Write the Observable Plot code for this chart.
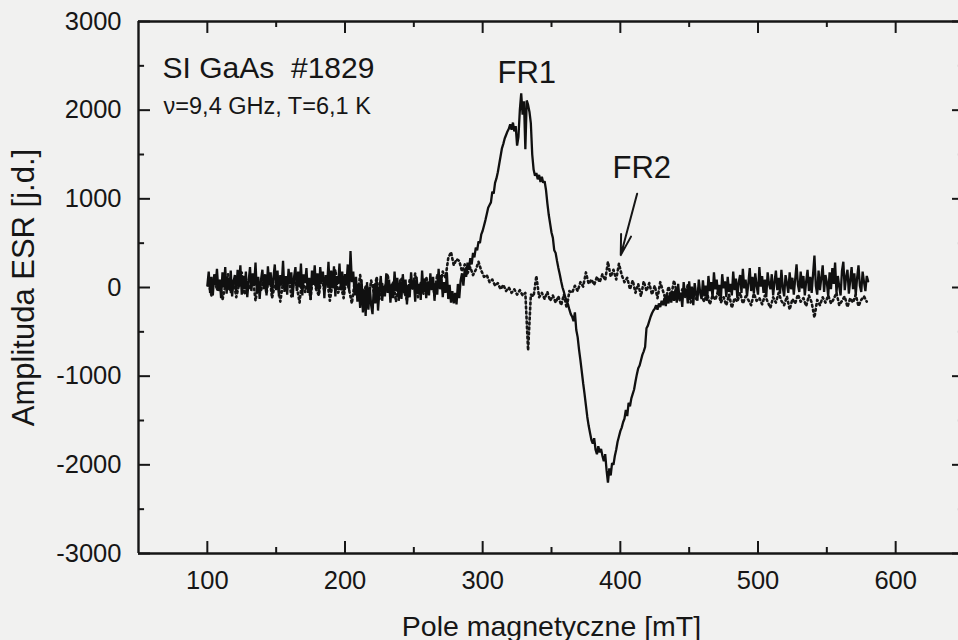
<!DOCTYPE html>
<html>
<head>
<meta charset="utf-8">
<script src="https://cdn.jsdelivr.net/npm/d3@7"></script>
<script src="https://cdn.jsdelivr.net/npm/@observablehq/plot@0.6"></script>
<style>
  html, body { margin: 0; padding: 0; background: #f1f1f0; overflow: hidden; }
</style>
</head>
<body>
<div id="chart"></div>
<script>
// ESR spectrum of SI GaAs #1829 (9.4 GHz, 6.1 K)
// Solid trace: sampled every 1 mT starting at 100 mT
const solidStart = 100;
const solidStep = 1;
const solidAmp = [
  20,180,-60,120,-90,150,30,210,-40,90,-120,170,0,230,-70,110,-30,190,-100,60,
  140,-50,200,10,250,-80,130,-20,180,-110,70,230,-40,160,20,280,-60,120,-130,90,
  200,-20,150,-90,240,30,170,-70,110,260,-30,190,-100,140,20,300,-50,130,-80,210,
  40,170,-110,120,230,-40,180,0,270,-90,150,50,220,-60,110,-140,190,30,250,-20,
  160,-80,230,60,180,-120,140,20,290,-50,190,-10,240,-100,130,40,270,-30,180,-70,
  150,20,260,-40,410,60,180,-90,120,-160,40,-230,90,-280,-20,-320,60,-250,10,-200,
  -300,40,-180,90,-260,-30,130,-150,20,-100,160,-60,90,-170,40,-120,180,-40,110,-150,
  60,-130,150,-60,90,-190,30,-110,170,-20,80,-160,120,-70,40,-140,190,-50,100,-120,
  70,-90,160,-30,120,-150,50,-80,210,-20,140,-110,60,-60,170,-130,30,-170,-40,-180,
  -60,-190,40,-120,80,160,20,210,120,280,200,330,260,390,340,450,420,520,500,600,
  640,700,760,830,900,930,960,1080,1060,1180,1230,1300,1390,1480,1570,1620,1680,1720,1760,1790,
  1840,1780,1860,1760,1820,1600,1700,2000,2190,1950,2100,1560,2110,2060,1980,1850,1500,1330,1260,1290,
  1220,1270,1190,1250,1180,1200,1100,950,820,720,620,560,420,390,300,220,150,70,0,-50,
  -110,-150,-190,-250,-300,-330,-380,-280,-480,-560,-700,-820,-950,-1080,-1200,-1330,-1460,-1560,-1640,-1720,
  -1760,-1700,-1830,-1880,-1790,-1860,-1820,-1900,-1960,-1880,-2060,-2200,-2040,-2120,-1980,-2000,-1900,-1830,-1740,-1680,
  -1620,-1580,-1520,-1480,-1380,-1450,-1300,-1340,-1250,-1200,-1150,-1060,-980,-910,-880,-820,-760,-720,-670,-460,
  -430,-380,-330,-290,-260,-240,-200,-250,-180,-220,-150,-200,-120,-210,-90,-180,-60,-170,-40,-150,
  -20,-170,40,-130,-60,-220,60,-90,-10,-180,70,-120,10,-200,50,-70,-150,90,-60,-130,
  80,-100,20,-150,130,-40,60,-120,170,-20,90,-80,30,-140,150,-10,70,-110,120,-50,
  40,-90,180,-30,100,-120,60,140,-60,210,-10,90,-100,50,220,-40,120,-70,160,20,
  -80,230,10,130,-60,90,-110,170,40,-20,150,-90,60,190,-30,110,-70,200,0,-100,
  140,50,-60,170,-20,110,-80,90,260,30,-50,180,-10,130,-90,70,200,-40,120,-60,
  150,360,20,-80,190,-30,110,250,-50,140,60,-100,170,-20,220,40,280,-60,130,10,
  -90,190,290,-30,120,200,-70,80,230,-20,160,-80,110,250,20,-50,180,60,-40,130,
  70
];

// Dotted trace: sampled every 2 mT starting at 101 mT
const dottedStart = 101;
const dottedStep = 2;
const dottedAmp = [
  40,-90,120,-30,80,-140,20,150,-60,90,-110,30,170,-80,60,-20,130,-150,50,-40,
  110,-70,160,-120,30,90,-160,60,-30,140,-100,80,10,-170,120,-50,70,-130,180,-20,
  -90,130,-40,90,-150,50,200,-60,20,-120,110,-30,-180,60,-100,140,-70,10,-140,80,
  -60,120,-130,40,-20,150,-90,70,-160,30,110,-50,-140,90,-10,160,-110,50,-70,120,
  -30,90,-80,150,20,180,110,330,400,250,320,300,180,260,160,230,140,200,290,190,
  120,140,60,90,20,50,-20,30,-40,0,-60,-20,-80,-30,-90,-60,-710,-80,-100,130,
  -110,-60,-130,-50,-150,-90,-170,-100,-200,-80,-230,-40,-60,20,-40,60,10,170,40,90,
  30,120,60,150,80,290,120,200,90,270,140,60,110,-20,80,-60,40,-100,70,-40,
  50,-80,20,-120,60,-40,-140,10,-90,80,-60,-150,-20,-110,30,-170,-70,-130,0,-100,
  -160,-60,-190,-90,-140,-40,-170,-110,-200,-80,-230,-120,-160,-60,-180,-100,-140,-200,-70,-150,
  -120,-190,-90,-160,-230,-110,-170,-60,-150,-200,-100,-250,-130,-180,-80,-160,-120,-210,-90,-170,
  -340,-140,-200,-110,-170,-90,-180,-130,-60,-200,-150,-100,-220,-120,-170,-80,-210,-140,-100,-160
];

// Axis ticks
const xMajor = [100, 200, 300, 400, 500, 600];
const xMinor = [150, 250, 350, 450, 550];
const yMajor = [-3000, -2000, -1000, 0, 1000, 2000, 3000];
const yMinor = [-2500, -1500, -500, 500, 1500, 2500];

// Text annotations (data coordinates, anchored at the start of the baseline)
const titleNotes = [{x: 67.5, y: 2368, text: "SI GaAs\u00a0\u00a0#1829"}];
const condNotes = [{x: 68.2, y: 1962, text: "\u03bd=9,4 GHz, T=6,1 K"}];
const lineNotes = [
  {x: 310.8, y: 2312, text: "FR1"},
  {x: 394.3, y: 1240, text: "FR2"}
];
const fr2Arrow = [{x1: 412.2, y1: 1057, x2: 400.3, y2: 365}];

const solid = solidAmp.map((v, i) => ({field: solidStart + i * solidStep, amp: v}));
const dotted = dottedAmp.map((v, i) => ({field: dottedStart + i * dottedStep, amp: v}));

const ink = "#161616";
const font = "'Liberation Sans', Arial, Helvetica, sans-serif";
const xDomain = [50, 650], yDomain = [-3000, 3000];
// tick lengths in data units (major ≈ 12 px, minor ≈ 6 px)
const txMaj = 8.7, txMin = 4.4, tyMaj = 135, tyMin = 68;

const chart = Plot.plot({
  width: 958,
  height: 640,
  marginLeft: 138,
  marginRight: 0,
  marginTop: 21,
  marginBottom: 87,
  x: {domain: xDomain, range: [138, 964], axis: null},
  y: {domain: yDomain, range: [553, 21], axis: null},
  style: {background: "#f1f1f0", fontFamily: font, color: ink, overflow: "visible"},
  marks: [
    // spectra
    Plot.line(dotted, {x: "field", y: "amp", stroke: ink, strokeWidth: 2.6, strokeDasharray: "1.8,3.2"}),
    Plot.line(solid, {x: "field", y: "amp", stroke: "#101010", strokeWidth: 2.3, strokeLinejoin: "miter"}),

    // frame
    Plot.ruleX(xDomain, {y1: yDomain[0], y2: yDomain[1], stroke: ink, strokeWidth: 2.4}),
    Plot.ruleY(yDomain, {x1: xDomain[0], x2: xDomain[1], stroke: ink, strokeWidth: 2.4}),

    // inward ticks on all four sides
    Plot.ruleX(xMajor, {y1: yDomain[0], y2: yDomain[0] + tyMaj, stroke: ink, strokeWidth: 2}),
    Plot.ruleX(xMinor, {y1: yDomain[0], y2: yDomain[0] + tyMin, stroke: ink, strokeWidth: 2}),
    Plot.ruleX(xMajor, {y1: yDomain[1], y2: yDomain[1] - tyMaj, stroke: ink, strokeWidth: 2}),
    Plot.ruleX(xMinor, {y1: yDomain[1], y2: yDomain[1] - tyMin, stroke: ink, strokeWidth: 2}),
    Plot.ruleY(yMajor, {x1: xDomain[0], x2: xDomain[0] + txMaj, stroke: ink, strokeWidth: 2}),
    Plot.ruleY(yMinor, {x1: xDomain[0], x2: xDomain[0] + txMin, stroke: ink, strokeWidth: 2}),
    Plot.ruleY(yMajor, {x1: xDomain[1], x2: xDomain[1] - txMaj, stroke: ink, strokeWidth: 2}),
    Plot.ruleY(yMinor, {x1: xDomain[1], x2: xDomain[1] - txMin, stroke: ink, strokeWidth: 2}),

    // tick labels
    Plot.text(xMajor, {x: d => d, frameAnchor: "bottom", text: d => String(d), dy: 27,
      lineAnchor: "middle", fontSize: 25.5, fill: ink}),
    Plot.text(yMajor, {y: d => d, frameAnchor: "left", text: d => String(d), dx: -17,
      textAnchor: "end", lineAnchor: "middle", fontSize: 25.5, fill: ink}),

    // axis titles
    Plot.text(["Pole magnetyczne [mT]"], {frameAnchor: "bottom", x: () => (xDomain[0] + xDomain[1]) / 2,
      text: d => d, dy: 82, lineAnchor: "bottom", fontSize: 28.5, fill: ink}),
    Plot.text(["Amplituda ESR [j.d.]"], {frameAnchor: "left", text: d => d, rotate: -90,
      dx: -105, lineAnchor: "bottom", textAnchor: "middle", fontSize: 31, fill: ink}),

    // annotations
    Plot.text(titleNotes, {x: "x", y: "y", text: "text", textAnchor: "start", lineAnchor: "bottom",
      fontSize: 30, fill: ink}),
    Plot.text(condNotes, {x: "x", y: "y", text: "text", textAnchor: "start", lineAnchor: "bottom",
      fontSize: 23.5, fill: ink}),
    Plot.text(lineNotes, {x: "x", y: "y", text: "text", textAnchor: "start", lineAnchor: "bottom",
      fontSize: 31, fill: ink}),
    Plot.arrow(fr2Arrow, {x1: "x1", y1: "y1", x2: "x2", y2: "y2", stroke: ink, strokeWidth: 2,
      headLength: 18, headAngle: 28})
  ]
});

document.getElementById("chart").append(chart);
</script>
</body>
</html>
